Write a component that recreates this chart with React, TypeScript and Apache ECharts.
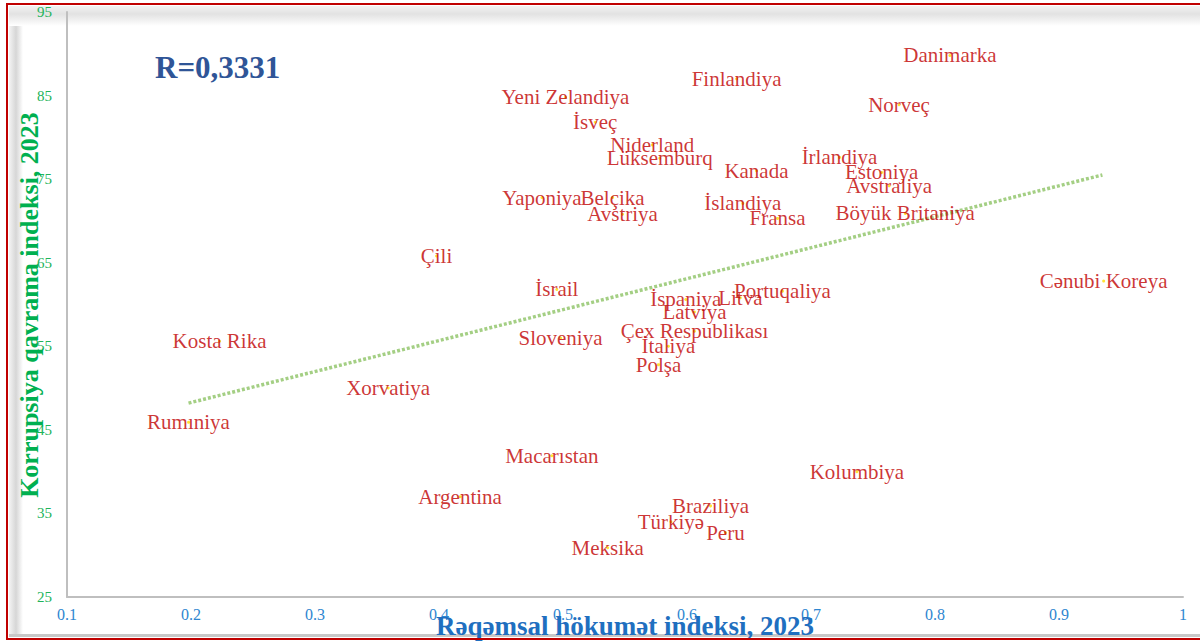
import React, { useEffect, useRef } from "react";
import * as echarts from "echarts";

const countries = [
  "Danimarka", "Finlandiya", "Yeni Zelandiya", "Norveç", "İsveç", "Niderland",
  "Lüksemburq", "İrlandiya", "Kanada", "Estoniya", "Avstraliya", "Yaponiya",
  "Belçika", "İslandiya", "Avstriya", "Fransa", "Böyük Britaniya", "Çili",
  "Cənubi Koreya", "İsrail", "Portuqaliya", "Litva", "İspaniya", "Latviya",
  "Çex Respublikası", "Sloveniya", "Kosta Rika", "İtaliya", "Polşa", "Xorvatiya",
  "Rumıniya", "Macarıstan", "Kolumbiya", "Argentina", "Braziliya", "Türkiyə",
  "Peru", "Meksika",
];
const digitalGov = [
  0.812, 0.64, 0.502, 0.771, 0.526, 0.572,
  0.578, 0.723, 0.656, 0.757, 0.763, 0.483,
  0.54, 0.645, 0.548, 0.673, 0.776, 0.398,
  0.936, 0.495, 0.677, 0.643, 0.599, 0.606,
  0.606, 0.498, 0.223, 0.585, 0.577, 0.359,
  0.198, 0.491, 0.737, 0.417, 0.619, 0.587,
  0.631, 0.536,
];
const corruption = [
  89.8, 87.0, 84.8, 83.9, 81.8, 79.1,
  77.5, 77.6, 76.0, 75.8, 74.2, 72.8,
  72.8, 72.1, 70.8, 70.3, 70.9, 65.8,
  62.8, 61.8, 61.6, 60.8, 60.6, 59.1,
  56.8, 56.0, 55.6, 55.0, 52.8, 50.0,
  45.9, 41.9, 40.0, 37.0, 35.9, 34.0,
  32.7, 30.9,
];
const trendX = [0.198, 0.935];
const trendY = [48.2, 75.5];
const yTickLabels = ["25", "35", "45", "55", "65", "75", "85", "95"];
const rText = "R=0,3331";
const xName = "Rəqəmsal hökumət indeksi, 2023";
const yName = "Korrupsiya qavrama indeksi, 2023";

export default function App() {
  const ref = useRef<HTMLDivElement>(null);
  useEffect(() => {
    if (!ref.current) return;
    const chart = echarts.init(ref.current, null, { renderer: "svg" });
    const serif = "'Liberation Serif', 'Times New Roman', serif";
    const points = countries.map((name, i) => ({ name, value: [digitalGov[i], corruption[i]] }));
    const trend = trendX.map((x, i) => [x, trendY[i]]);
    chart.setOption({
      animation: false,
      backgroundColor: "#ffffff",
      grid: { left: 67, top: 12, right: 17, bottom: 45, containLabel: false },
      xAxis: {
        type: "value",
        min: 0.1,
        max: 1,
        interval: 0.1,
        axisLine: { show: true, lineStyle: { color: "#bfbfbf", width: 2 } },
        axisTick: { show: false },
        splitLine: { show: false },
        axisLabel: {
          color: "#2e86d0",
          fontFamily: serif,
          fontSize: 16,
          margin: 9,
          formatter: (v: number) => String(+v.toFixed(1)),
        },
      },
      yAxis: {
        type: "value",
        min: 25,
        max: 95,
        interval: 5,
        axisLine: { show: true, lineStyle: { color: "#bfbfbf", width: 2 } },
        axisTick: { show: false },
        splitLine: { show: false },
        axisLabel: {
          color: "#22b35a",
          fontFamily: serif,
          fontSize: 15,
          margin: 15,
          formatter: (v: number) => {
            const s = String(Math.round(v));
            return yTickLabels.includes(s) ? s : "";
          },
        },
      },
      graphic: [
        {
          type: "rect",
          silent: true,
          z: -10,
          shape: { x: 9, y: 6, width: 14, height: 630 },
          style: {
            fill: new echarts.graphic.LinearGradient(0, 0, 1, 0, [
              { offset: 0, color: "#f4f4f4" },
              { offset: 0.5, color: "#d6d6d6" },
              { offset: 1, color: "#ffffff" },
            ]),
          },
        },
        {
          type: "rect",
          silent: true,
          z: -10,
          shape: { x: 9, y: 6, width: 1195, height: 20 },
          style: {
            fill: new echarts.graphic.LinearGradient(0, 0, 0, 1, [
              { offset: 0, color: "#f2f2f2" },
              { offset: 0.4, color: "#e2e2e2" },
              { offset: 1, color: "#ffffff" },
            ]),
          },
        },
        {
          type: "rect",
          silent: true,
          z: -10,
          shape: { x: 9, y: 634, width: 1195, height: 3 },
          style: { fill: "#c8c8c8" },
        },
        {
          type: "rect",
          silent: true,
          z: 100,
          shape: { x: 7, y: 4, width: 1200, height: 635 },
          style: { fill: "none", stroke: "#c00000", lineWidth: 2 },
        },
        {
          type: "text",
          silent: true,
          x: 155,
          y: 67,
          style: {
            text: rText,
            fontFamily: serif,
            fontWeight: "bold",
            fontSize: 31,
            fill: "#2f5597",
            textAlign: "left",
            textVerticalAlign: "middle",
          },
        },
        {
          type: "text",
          silent: true,
          x: 625,
          y: 626,
          z: 50,
          style: {
            text: xName,
            fontFamily: serif,
            fontWeight: "bold",
            fontSize: 27,
            fill: "#1f6fc0",
            textAlign: "center",
            textVerticalAlign: "middle",
          },
        },
        {
          type: "text",
          silent: true,
          x: 29,
          y: 305,
          rotation: Math.PI / 2,
          z: 50,
          style: {
            text: yName,
            fontFamily: serif,
            fontWeight: "bold",
            fontSize: 26,
            fill: "#00b050",
            textAlign: "center",
            textVerticalAlign: "middle",
          },
        },
      ],
      series: [
        {
          type: "line",
          data: trend,
          showSymbol: false,
          symbol: "none",
          z: 1,
          lineStyle: { color: "#a4cf84", width: 3.5, type: [3, 2] },
          silent: true,
        },
        {
          type: "scatter",
          data: points,
          symbolSize: 3,
          z: 3,
          itemStyle: { color: "#ffdd00" },
          label: {
            show: true,
            position: "inside",
            formatter: "{b}",
            fontFamily: serif,
            fontSize: 21,
            color: "#c00000",
          },
        },
      ],
    });
    return () => chart.dispose();
  }, []);
  return (
    <div
      ref={ref}
      style={{ position: "fixed", left: 0, top: 0, width: 1200, height: 642, background: "#fff" }}
    />
  );
}
